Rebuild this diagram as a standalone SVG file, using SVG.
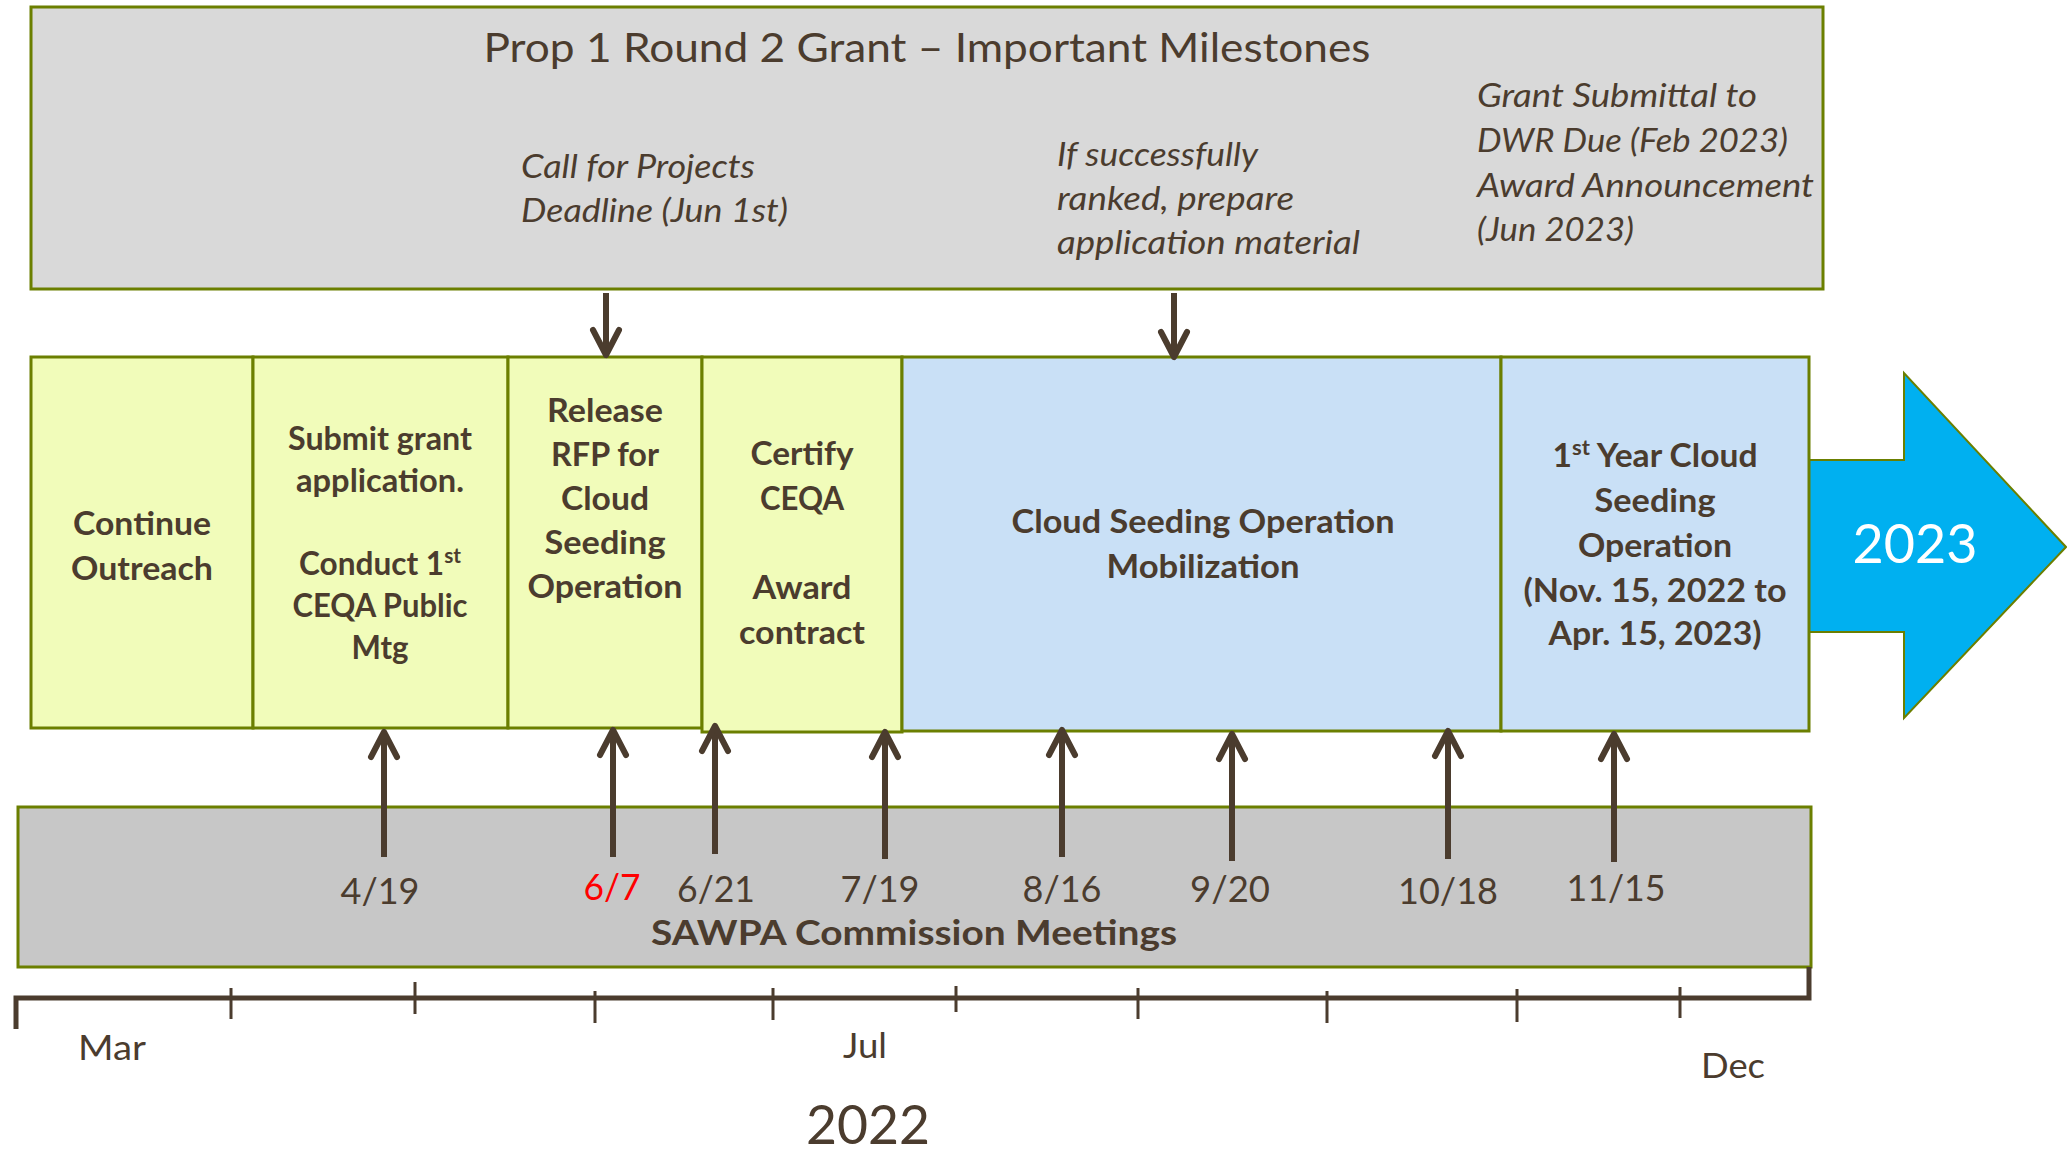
<svg xmlns="http://www.w3.org/2000/svg" width="2067" height="1154" viewBox="0 0 2067 1154">
<defs>
<style>
.t{font-family:Lato,"Liberation Sans",sans-serif;fill:#4b3c2e}
.it{font-style:italic;font-size:32px}
.b{font-weight:bold;font-size:32px;text-anchor:middle}
.d{font-size:37px;text-anchor:middle}
.box{stroke:#6b7f00;stroke-width:3}
.y{fill:#f1fcba}
.bl{fill:#c9e0f6}
.conn{stroke:#4b3c2e;stroke-width:6;fill:none}
.tick{stroke:#4b3c2e;stroke-width:3;fill:none}
</style>
<marker id="ah" markerUnits="userSpaceOnUse" viewBox="-32 -20 36 40" refX="0" refY="0" markerWidth="36" markerHeight="40" orient="auto">
<path d="M-25,-13 L0,0 L-25,13" fill="none" stroke="#4b3c2e" stroke-width="6" stroke-linecap="round" stroke-linejoin="round"/>
</marker>
</defs>
<rect width="2067" height="1154" fill="#ffffff"/>

<g id="header">
<rect class="box" x="31" y="7" width="1792" height="282" fill="#d9d9d9"/>
<text class="t" x="927" y="62" font-size="40" text-anchor="middle" textLength="887" lengthAdjust="spacingAndGlyphs">Prop 1 Round 2 Grant – Important Milestones</text>
<text class="t it" x="521" y="178" textLength="234" lengthAdjust="spacingAndGlyphs">Call for Projects</text>
<text class="t it" x="521" y="222" textLength="267" lengthAdjust="spacingAndGlyphs">Deadline (Jun 1st)</text>
<text class="t it" x="1057" y="166" textLength="201" lengthAdjust="spacingAndGlyphs">If successfully</text>
<text class="t it" x="1057" y="210" textLength="237" lengthAdjust="spacingAndGlyphs">ranked, prepare</text>
<text class="t it" x="1057" y="254" textLength="303" lengthAdjust="spacingAndGlyphs">application material</text>
<text class="t it" x="1477" y="107" textLength="280" lengthAdjust="spacingAndGlyphs">Grant Submittal to</text>
<text class="t it" x="1477" y="152" textLength="311" lengthAdjust="spacingAndGlyphs">DWR Due (Feb 2023)</text>
<text class="t it" x="1477" y="197" textLength="337" lengthAdjust="spacingAndGlyphs">Award Announcement</text>
<text class="t it" x="1477" y="241" textLength="157" lengthAdjust="spacingAndGlyphs">(Jun 2023)</text>
</g>

<g id="arrow2023">
<polygon points="1809,460 1904,460 1904,373 2066,547 1904,718 1904,632 1809,632" fill="#00b0f0" stroke="#6b7f00" stroke-width="2"/>
<text x="1915" y="563" font-family="Lato,'Liberation Sans',sans-serif" font-size="55" fill="#ffffff" text-anchor="middle" textLength="125" lengthAdjust="spacingAndGlyphs">2023</text>
</g>

<g id="continue-outreach">
<rect class="box y" x="31" y="357" width="222" height="371"/>
<text class="t b" x="142" y="535" textLength="138" lengthAdjust="spacingAndGlyphs">Continue</text>
<text class="t b" x="142" y="580" textLength="142" lengthAdjust="spacingAndGlyphs">Outreach</text>
</g>

<g id="submit-grant">
<rect class="box y" x="253" y="357" width="255" height="371"/>
<text class="t b" x="380" y="450" textLength="184" lengthAdjust="spacingAndGlyphs">Submit grant</text>
<text class="t b" x="380" y="492" textLength="168" lengthAdjust="spacingAndGlyphs">application.</text>
<text class="t b" x="380" y="575" textLength="162" lengthAdjust="spacingAndGlyphs">Conduct 1<tspan font-size="21" dy="-12">st</tspan></text>
<text class="t b" x="380" y="617" textLength="175" lengthAdjust="spacingAndGlyphs">CEQA Public</text>
<text class="t b" x="380" y="659" textLength="57" lengthAdjust="spacingAndGlyphs">Mtg</text>
</g>

<g id="release-rfp">
<rect class="box y" x="508" y="357" width="194" height="371"/>
<text class="t b" x="605" y="422" textLength="116" lengthAdjust="spacingAndGlyphs">Release</text>
<text class="t b" x="605" y="466" textLength="108" lengthAdjust="spacingAndGlyphs">RFP for</text>
<text class="t b" x="605" y="510" textLength="88" lengthAdjust="spacingAndGlyphs">Cloud</text>
<text class="t b" x="605" y="554" textLength="121" lengthAdjust="spacingAndGlyphs">Seeding</text>
<text class="t b" x="605" y="598" textLength="155" lengthAdjust="spacingAndGlyphs">Operation</text>
</g>

<g id="certify-ceqa">
<rect class="box y" x="702" y="357" width="200" height="375"/>
<text class="t b" x="802" y="465" textLength="103" lengthAdjust="spacingAndGlyphs">Certify</text>
<text class="t b" x="802" y="510" textLength="84" lengthAdjust="spacingAndGlyphs">CEQA</text>
<text class="t b" x="802" y="599" textLength="99" lengthAdjust="spacingAndGlyphs">Award</text>
<text class="t b" x="802" y="644" textLength="126" lengthAdjust="spacingAndGlyphs">contract</text>
</g>

<g id="mobilization">
<rect class="box bl" x="902" y="357" width="599" height="374"/>
<text class="t b" x="1203" y="533" textLength="383" lengthAdjust="spacingAndGlyphs">Cloud Seeding Operation</text>
<text class="t b" x="1203" y="578" textLength="193" lengthAdjust="spacingAndGlyphs">Mobilization</text>
</g>

<g id="first-year">
<rect class="box bl" x="1501" y="357" width="308" height="374"/>
<text class="t b" x="1655" y="467" textLength="205" lengthAdjust="spacingAndGlyphs">1<tspan font-size="21" dy="-12">st</tspan><tspan dy="12"> Year Cloud</tspan></text>
<text class="t b" x="1655" y="512" textLength="121" lengthAdjust="spacingAndGlyphs">Seeding</text>
<text class="t b" x="1655" y="557" textLength="154" lengthAdjust="spacingAndGlyphs">Operation</text>
<text class="t b" x="1655" y="602" textLength="263" lengthAdjust="spacingAndGlyphs">(Nov. 15, 2022 to</text>
<text class="t b" x="1655" y="645" textLength="213" lengthAdjust="spacingAndGlyphs">Apr. 15, 2023)</text>
</g>

<g id="meetings">
<rect class="box" x="18" y="807" width="1793" height="160" fill="#c7c7c7"/>
<text class="t d" x="380" y="904" textLength="79" lengthAdjust="spacingAndGlyphs">4/19</text>
<text class="d" x="612" y="900" fill="#ff0000" font-family="Lato,'Liberation Sans',sans-serif" textLength="57" lengthAdjust="spacingAndGlyphs">6/7</text>
<text class="t d" x="716" y="902" textLength="78" lengthAdjust="spacingAndGlyphs">6/21</text>
<text class="t d" x="880" y="902" textLength="79" lengthAdjust="spacingAndGlyphs">7/19</text>
<text class="t d" x="1062" y="902" textLength="79" lengthAdjust="spacingAndGlyphs">8/16</text>
<text class="t d" x="1230" y="902" textLength="80" lengthAdjust="spacingAndGlyphs">9/20</text>
<text class="t d" x="1448" y="904" textLength="100" lengthAdjust="spacingAndGlyphs">10/18</text>
<text class="t d" x="1616" y="901" textLength="99" lengthAdjust="spacingAndGlyphs">11/15</text>
<text class="t" x="914" y="945" font-size="34" font-weight="bold" text-anchor="middle" textLength="526" lengthAdjust="spacingAndGlyphs">SAWPA Commission Meetings</text>
</g>

<g id="connectors">
<line class="conn" x1="606" y1="293" x2="606" y2="355" marker-end="url(#ah)"/>
<line class="conn" x1="1174" y1="293" x2="1174" y2="357" marker-end="url(#ah)"/>
<line class="conn" x1="384" y1="857" x2="384" y2="732" marker-end="url(#ah)"/>
<line class="conn" x1="613" y1="857" x2="613" y2="730" marker-end="url(#ah)"/>
<line class="conn" x1="715" y1="854" x2="715" y2="726" marker-end="url(#ah)"/>
<line class="conn" x1="885" y1="859" x2="885" y2="732" marker-end="url(#ah)"/>
<line class="conn" x1="1062" y1="857" x2="1062" y2="730" marker-end="url(#ah)"/>
<line class="conn" x1="1232" y1="861" x2="1232" y2="734" marker-end="url(#ah)"/>
<line class="conn" x1="1448" y1="859" x2="1448" y2="731" marker-end="url(#ah)"/>
<line class="conn" x1="1614" y1="862" x2="1614" y2="734" marker-end="url(#ah)"/>
</g>

<g id="timeline">
<path d="M16,1029 V998 H1809 V967" fill="none" stroke="#4b3c2e" stroke-width="5"/>
<path class="tick" d="M231,988 V1019 M415,982 V1014 M595,991 V1023 M773,988 V1020 M956,986 V1012 M1138,988 V1019 M1327,991 V1023 M1517,989 V1022 M1680,987 V1018"/>
<text class="t" x="78" y="1060" font-size="34" textLength="68" lengthAdjust="spacingAndGlyphs">Mar</text>
<text class="t" x="843" y="1058" font-size="34" textLength="44" lengthAdjust="spacingAndGlyphs">Jul</text>
<text class="t" x="1701" y="1078" font-size="34" textLength="64" lengthAdjust="spacingAndGlyphs">Dec</text>
<text class="t" x="806" y="1144" font-size="54" textLength="124" lengthAdjust="spacingAndGlyphs">2022</text>
</g>
</svg>
